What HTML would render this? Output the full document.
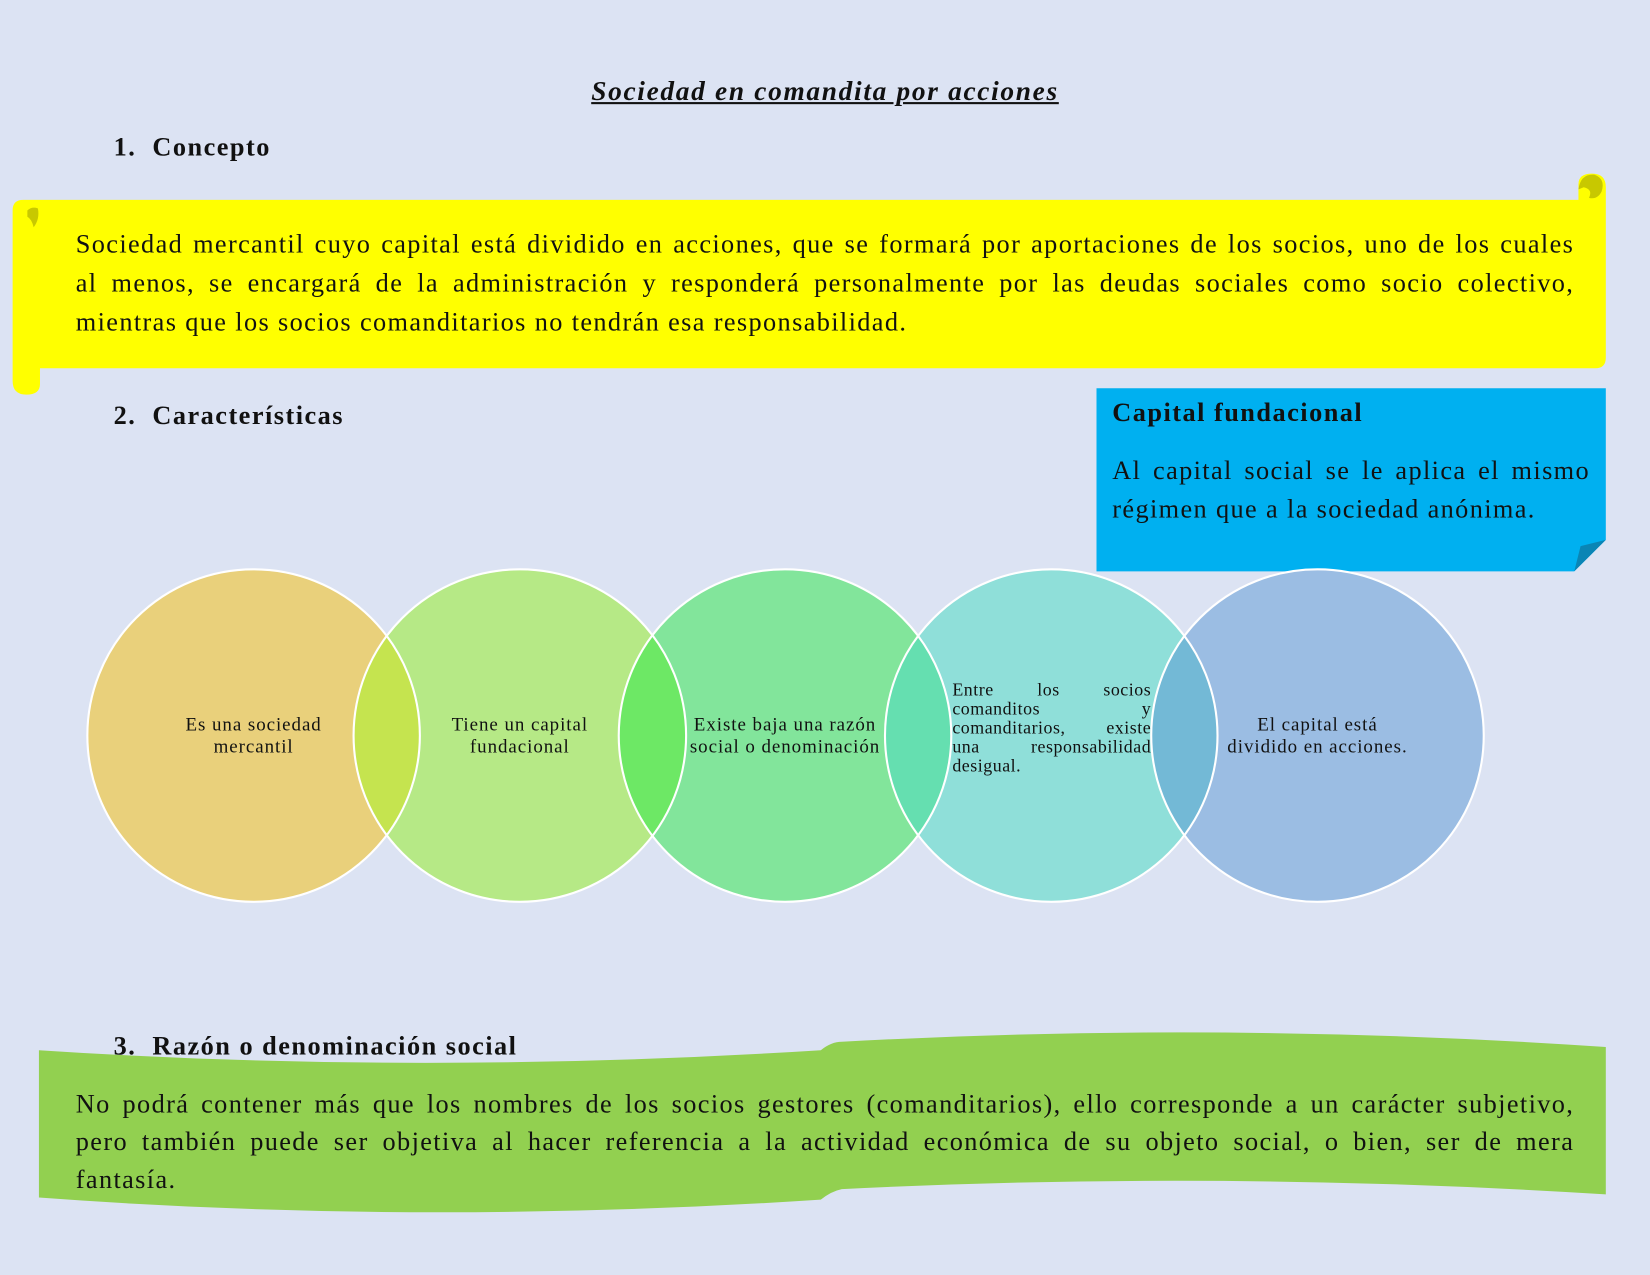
<!DOCTYPE html>
<html><head><meta charset="utf-8"><style>
html,body{margin:0;padding:0;background:#dce3f3;}
#wrap{width:1568px;height:1212px;position:relative;transform:scale(1.05230);transform-origin:0 0;font-family:"Liberation Serif",serif;color:#111;}
.abs{position:absolute;}
.h{font-weight:bold;font-size:25px;letter-spacing:1.4px;}
.p{font-size:25px;line-height:37px;letter-spacing:1.3px;text-align:justify;text-align-last:left;}
.c{font-size:18px;letter-spacing:0.9px;line-height:21px;text-align:center;}
.j{text-align:justify;text-align-last:justify;white-space:nowrap;}
</style></head><body><div id="wrap">
<svg class="abs" style="left:0;top:0" width="1568" height="1212">
 <path d="M12,200 Q12,190 22,190 L1500,190 L1500,175 Q1500,165 1513,165 Q1526,165 1526,178 L1526,340 Q1526,350 1516,350 L38,350 L38,365 Q38,375 25,375 Q12,375 12,362 Z" fill="#ffff00"/>
 <path d="M1500,180 Q1502,165 1515,166 Q1526,170 1522,182 Q1518,190 1510,188 Q1514,180 1505,178 Z" fill="#c8c800"/>
 <path d="M26,200 Q30,196 36,198 Q38,208 32,216 Q30,208 26,206 Z" fill="#c8c800"/>
 <path d="M1042,369 L1526,369 L1526,513 L1496,543 L1042,543 Z" fill="#00b0f0"/>
 <path d="M1496,543 L1502,519 L1526,513 Z" fill="#0a85b5"/>
 <path d="M37,998 Q400,1022 780,998 Q790,990 800,990 Q1160,970 1526,995 L1526,1135 Q1160,1112 800,1130 Q790,1132 780,1140 Q400,1165 37,1138 Z" fill="#92d050"/>
 <defs>
  <clipPath id="c1"><circle cx="241" cy="699" r="158"/></clipPath>
  <clipPath id="c2"><circle cx="494" cy="699" r="158"/></clipPath>
  <clipPath id="c3"><circle cx="746" cy="699" r="158"/></clipPath>
  <clipPath id="c4"><circle cx="999" cy="699" r="158"/></clipPath>
 </defs>
 <circle cx="241" cy="699" r="158" fill="#e9d07b"/>
 <circle cx="494" cy="699" r="158" fill="#b6e986"/>
 <circle cx="746" cy="699" r="158" fill="#82e59b"/>
 <circle cx="999" cy="699" r="158" fill="#8fdfd9"/>
 <circle cx="1252" cy="699" r="158" fill="#9bbde3"/>
 <circle cx="494" cy="699" r="158" fill="#c5e44f" clip-path="url(#c1)"/>
 <circle cx="746" cy="699" r="158" fill="#6de865" clip-path="url(#c2)"/>
 <circle cx="999" cy="699" r="158" fill="#65dfb0" clip-path="url(#c3)"/>
 <circle cx="1252" cy="699" r="158" fill="#73b9d6" clip-path="url(#c4)"/>
 <g fill="none" stroke="#fff" stroke-width="2">
 <circle cx="241" cy="699" r="158"/><circle cx="494" cy="699" r="158"/><circle cx="746" cy="699" r="158"/><circle cx="999" cy="699" r="158"/><circle cx="1252" cy="699" r="158"/>
 </g>
</svg>
<div class="abs c" style="left:141px;width:200px;top:678px;">Es una sociedad<br>mercantil</div>
<div class="abs c" style="left:384px;width:220px;top:678px;">Tiene un capital<br>fundacional</div>
<div class="abs c" style="left:636px;width:220px;top:678px;">Existe baja una razón<br>social o denominación</div>
<div class="abs c" style="left:1132px;width:240px;top:678px;">El capital está<br>dividido en acciones.</div>
<div class="abs" style="left:905px;top:647px;width:189px;font-size:17px;letter-spacing:0.5px;line-height:18px;">
 <div class="j">Entre los socios</div><div class="j">comanditos y</div><div class="j">comanditarios, existe</div><div class="j">una responsabilidad</div><div>desigual.</div>
</div>
<div class="abs" style="left:0;width:1568px;top:72px;text-align:center;font-size:26px;letter-spacing:1.6px;font-weight:bold;font-style:italic;text-decoration:underline;">Sociedad en comandita por acciones</div>
<div class="abs h" style="left:108px;top:127px;">1.&nbsp; Concepto</div>
<div class="abs p" style="left:72px;top:214px;width:1424px;">
<div class="j">Sociedad mercantil cuyo capital está dividido en acciones, que se formará por aportaciones de los socios, uno de los cuales</div>
<div class="j">al menos, se encargará de la administración y responderá personalmente por las deudas sociales como socio colectivo,</div>
<div>mientras que los socios comanditarios no tendrán esa responsabilidad.</div></div>
<div class="abs h" style="left:108px;top:382px;">2.&nbsp; Características</div>
<div class="abs h" style="left:1057px;top:379px;">Capital fundacional</div>
<div class="abs p" style="left:1057px;top:429px;width:454px;"><div class="j">Al capital social se le aplica el mismo</div><div>régimen que a la sociedad anónima.</div></div>
<div class="abs h" style="left:108px;top:981px;">3.&nbsp; Razón o denominación social</div>
<div class="abs p" style="left:72px;top:1032px;width:1424px;line-height:36px;">
<div class="j">No podrá contener más que los nombres de los socios gestores (comanditarios), ello corresponde a un carácter subjetivo,</div>
<div class="j">pero también puede ser objetiva al hacer referencia a la actividad económica de su objeto social, o bien, ser de mera</div>
<div>fantasía.</div></div>
</div></body></html>
